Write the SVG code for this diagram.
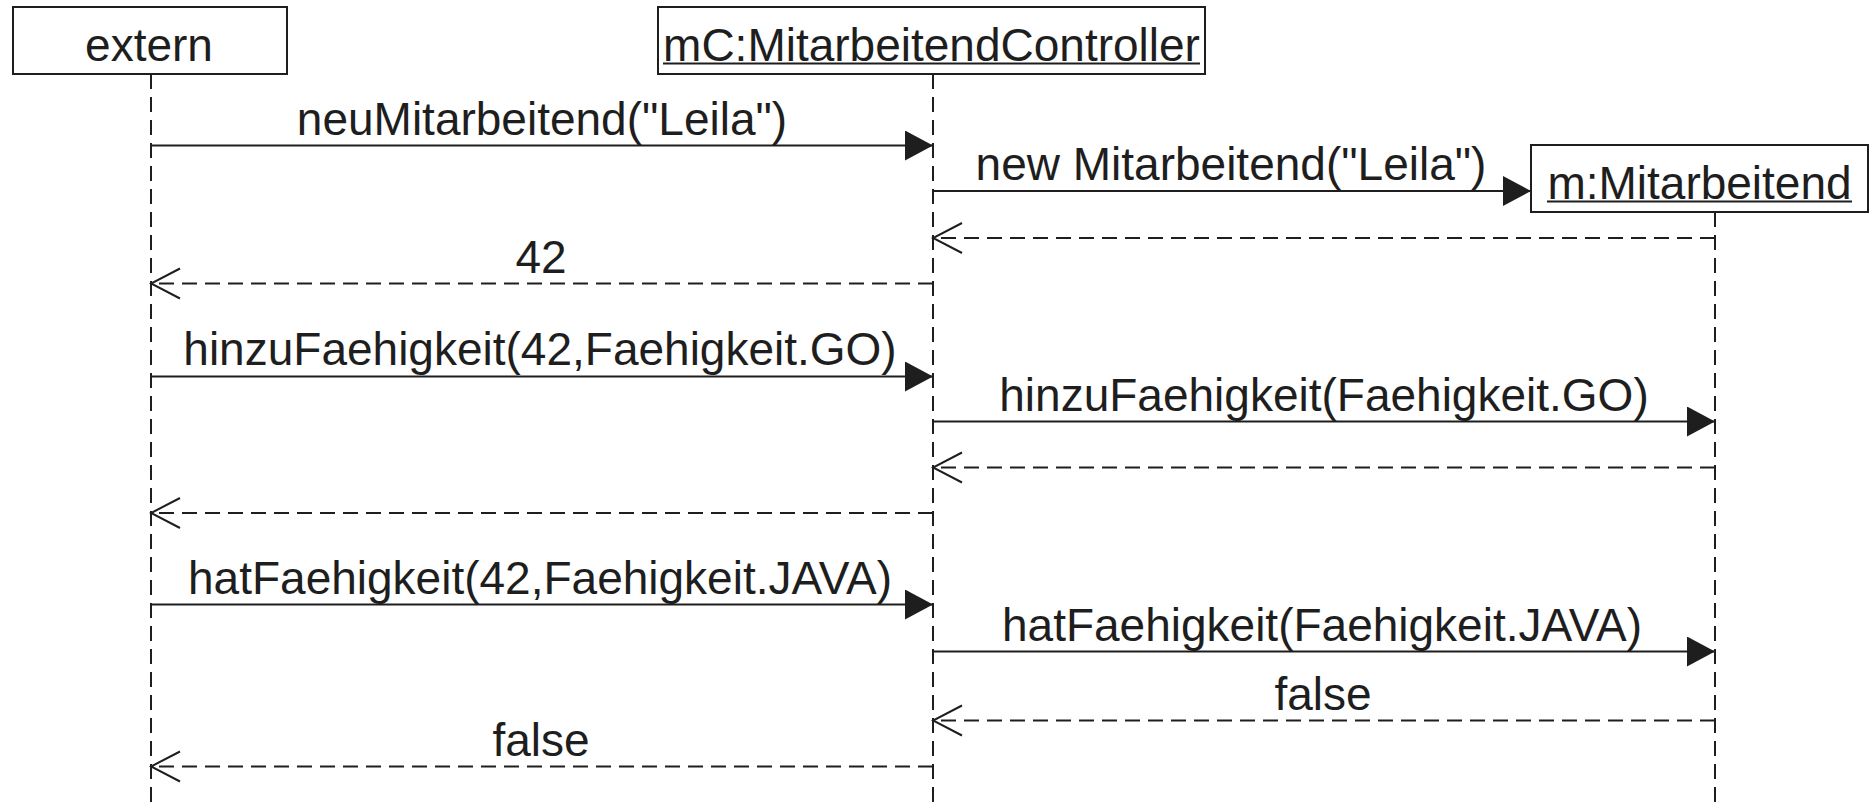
<svg xmlns="http://www.w3.org/2000/svg" width="1870" height="809" viewBox="0 0 1870 809">
<style>
  .box { fill: #ffffff; stroke: #1e1e1e; stroke-width: 2; }
  .lbl { font-family: "Liberation Sans", Arial, sans-serif; font-size: 46px; fill: #1e1e1e; text-anchor: middle; }
  .ul { stroke: #1e1e1e; stroke-width: 2; }
  .life { stroke: #1e1e1e; stroke-width: 2; stroke-dasharray: 15 8; fill: none; }
  .call { stroke: #1e1e1e; stroke-width: 2; fill: none; marker-end: url(#filled); }
  .ret { stroke: #1e1e1e; stroke-width: 2; stroke-dasharray: 15 8; fill: none; marker-end: url(#open); }
</style>
<defs>
  <marker id="filled" markerUnits="userSpaceOnUse" markerWidth="30" markerHeight="32" refX="28" refY="15" orient="auto" viewBox="0 0 30 32">
    <path d="M0,0 L28,15 L0,30 Z" fill="#1e1e1e"/>
  </marker>
  <marker id="open" markerUnits="userSpaceOnUse" markerWidth="32" markerHeight="34" refX="30" refY="16" orient="auto" viewBox="0 0 32 34">
    <path d="M1,1 L30,16 L1,31" fill="none" stroke="#1e1e1e" stroke-width="2"/>
  </marker>
</defs>
<rect width="1870" height="809" fill="#ffffff"/>

<g id="lifelines">
  <line class="life" x1="151" y1="74" x2="151" y2="809"/>
  <line class="life" x1="933" y1="74" x2="933" y2="809"/>
  <line class="life" x1="1715" y1="212" x2="1715" y2="809"/>
</g>

<g id="node-extern">
  <rect class="box" x="13" y="7" width="274" height="67"/>
  <text class="lbl" x="149" y="61">extern</text>
</g>
<g id="node-controller">
  <rect class="box" x="658" y="7" width="547" height="67"/>
  <text class="lbl" x="931.5" y="61">mC:MitarbeitendController</text>
  <line class="ul" x1="663" y1="63.5" x2="1200" y2="63.5"/>
</g>
<g id="node-mitarbeitend">
  <rect class="box" x="1531" y="145" width="337" height="67"/>
  <text class="lbl" x="1699.5" y="199">m:Mitarbeitend</text>
  <line class="ul" x1="1547" y1="201.5" x2="1852" y2="201.5"/>
</g>

<g id="connectors">
  <line class="call" x1="151" y1="145.5" x2="933" y2="145.5"/>
  <text class="lbl" x="542" y="134.5">neuMitarbeitend("Leila")</text>

  <line class="call" x1="933" y1="191" x2="1531" y2="191"/>
  <text class="lbl" x="1231" y="180">new Mitarbeitend("Leila")</text>

  <line class="ret" x1="1715" y1="238" x2="933" y2="238"/>

  <line class="ret" x1="933" y1="283.5" x2="151" y2="283.5"/>
  <text class="lbl" x="541" y="272.5">42</text>

  <line class="call" x1="151" y1="376.5" x2="933" y2="376.5"/>
  <text class="lbl" x="540" y="365">hinzuFaehigkeit(42,Faehigkeit.GO)</text>

  <line class="call" x1="933" y1="421.5" x2="1715" y2="421.5"/>
  <text class="lbl" x="1324" y="410.5">hinzuFaehigkeit(Faehigkeit.GO)</text>

  <line class="ret" x1="1715" y1="467.5" x2="933" y2="467.5"/>

  <line class="ret" x1="933" y1="513" x2="151" y2="513"/>

  <line class="call" x1="151" y1="604.5" x2="933" y2="604.5"/>
  <text class="lbl" x="540" y="594">hatFaehigkeit(42,Faehigkeit.JAVA)</text>

  <line class="call" x1="933" y1="651.5" x2="1715" y2="651.5"/>
  <text class="lbl" x="1322" y="640.5">hatFaehigkeit(Faehigkeit.JAVA)</text>

  <line class="ret" x1="1715" y1="720.5" x2="933" y2="720.5"/>
  <text class="lbl" x="1323" y="709.5">false</text>

  <line class="ret" x1="933" y1="766.5" x2="151" y2="766.5"/>
  <text class="lbl" x="541" y="755.5">false</text>
</g>
</svg>
